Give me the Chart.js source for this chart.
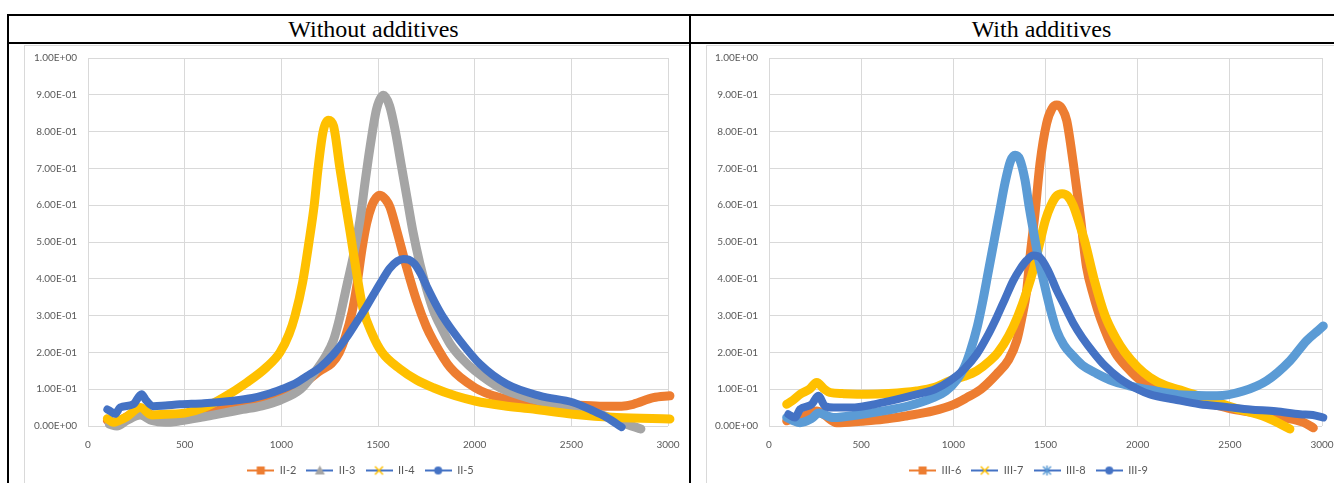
<!DOCTYPE html>
<html>
<head>
<meta charset="utf-8">
<script src="https://cdn.jsdelivr.net/npm/chart.js@4.4.1/dist/chart.umd.min.js"></script>
<style>
body { margin: 0; background: #fff; }
#page { position: relative; width: 1334px; height: 483px; overflow: hidden; }
.rule { position: absolute; background: #000; }
.head { position: absolute; top: 16px; height: 26px; line-height: 27px; width: 347px; text-align: center;
        font-family: "Liberation Serif", "Times New Roman", serif; font-size: 24px; color: #000; }
.area { position: absolute; top: 45px; height: 500px; border-left: 1px solid #d9d9d9; border-top: 1px solid #d9d9d9; }
canvas { position: absolute; top: 46px; }
</style>
</head>
<body>
<div id="page">
  <div class="rule" style="left:7px;top:14px;width:1400px;height:2px"></div>
  <div class="rule" style="left:7px;top:42px;width:1400px;height:2px"></div>
  <div class="rule" style="left:7px;top:14px;width:2px;height:500px"></div>
  <div class="rule" style="left:689px;top:14px;width:2px;height:500px"></div>
  <div class="head" style="left:200px">Without additives</div>
  <div class="head" style="left:868px">With additives</div>
  <div class="area" style="left:24px;width:664px"></div>
  <div class="area" style="left:706px;width:700px"></div>
  <canvas id="leftChart" width="663" height="440" style="left:25px"></canvas>
  <canvas id="rightChart" width="640" height="440" style="left:707px"></canvas>
</div>
<script>
// ---- data ----
var xTicks = [0, 500, 1000, 1500, 2000, 2500, 3000];
var yTicks = [0, 0.1, 0.2, 0.3, 0.4, 0.5, 0.6, 0.7, 0.8, 0.9, 1.0];

// without additives
var ii2X = [100, 140, 200, 270, 330, 400, 500, 600, 700, 800, 900, 1000, 1100, 1200, 1260, 1300, 1330, 1366, 1390, 1417, 1441, 1469, 1490, 1510, 1540, 1562, 1597, 1648, 1700, 1750, 1786, 1873, 2002, 2131, 2303, 2510, 2648, 2760, 2820, 2924, 3010];
var ii2Y = [0.015, 0.01, 0.025, 0.045, 0.03, 0.025, 0.03, 0.035, 0.045, 0.055, 0.065, 0.085, 0.11, 0.15, 0.17, 0.2, 0.24, 0.31, 0.38, 0.48, 0.55, 0.6, 0.62, 0.627, 0.615, 0.595, 0.531, 0.431, 0.34, 0.27, 0.232, 0.159, 0.104, 0.077, 0.064, 0.057, 0.054, 0.054, 0.059, 0.077, 0.082];

var ii3X = [110, 150, 200, 270, 330, 400, 476, 600, 700, 800, 900, 993, 1100, 1166, 1230, 1269, 1300, 1338, 1372, 1407, 1435, 1459, 1493, 1528, 1560, 1590, 1620, 1650, 1680, 1717, 1750, 1786, 1830, 1873, 1940, 2002, 2131, 2303, 2510, 2648, 2786, 2860];
var ii3Y = [0.005, 0.0, 0.015, 0.03, 0.015, 0.01, 0.014, 0.025, 0.035, 0.045, 0.055, 0.07, 0.1, 0.141, 0.19, 0.232, 0.29, 0.38, 0.46, 0.56, 0.67, 0.758, 0.862, 0.899, 0.87, 0.8, 0.71, 0.62, 0.53, 0.44, 0.375, 0.315, 0.265, 0.223, 0.18, 0.15, 0.104, 0.073, 0.05, 0.032, 0.005, -0.008];

var ii4X = [100, 130, 160, 200, 270, 330, 400, 500, 600, 700, 821, 924, 993, 1040, 1071, 1110, 1143, 1170, 1190, 1216, 1243, 1270, 1303, 1330, 1355, 1385, 1422, 1470, 1521, 1614, 1700, 1786, 1900, 2002, 2150, 2303, 2510, 2734, 3010];
var ii4Y = [0.02, 0.01, 0.015, 0.025, 0.05, 0.03, 0.032, 0.035, 0.05, 0.077, 0.118, 0.16, 0.2, 0.25, 0.3, 0.39, 0.5, 0.6, 0.7, 0.8, 0.831, 0.815, 0.7, 0.61, 0.53, 0.43, 0.32, 0.25, 0.2, 0.155, 0.125, 0.104, 0.082, 0.068, 0.055, 0.046, 0.032, 0.023, 0.019];

var ii5X = [100, 114, 140, 166, 234, 277, 300, 338, 400, 476, 600, 735, 850, 924, 1000, 1062, 1130, 1200, 1270, 1338, 1390, 1441, 1480, 1520, 1560, 1600, 1631, 1660, 1690, 1720, 1752, 1800, 1838, 1924, 2028, 2166, 2338, 2510, 2614, 2683, 2760];
var ii5Y = [0.045, 0.041, 0.033, 0.05, 0.059, 0.086, 0.07, 0.054, 0.056, 0.059, 0.062, 0.068, 0.076, 0.086, 0.1, 0.113, 0.135, 0.159, 0.195, 0.241, 0.283, 0.325, 0.36, 0.395, 0.428, 0.448, 0.454, 0.452, 0.44, 0.415, 0.38, 0.33, 0.295, 0.232, 0.168, 0.114, 0.082, 0.064, 0.041, 0.023, -0.003];

// with additives
var iii6X = [96, 130, 180, 259, 300, 367, 500, 620, 750, 891, 1000, 1073, 1150, 1235, 1300, 1344, 1370, 1398, 1416, 1443, 1470, 1506, 1535, 1561, 1590, 1615, 1651, 1687, 1723, 1760, 1800, 1877, 1950, 2013, 2100, 2248, 2400, 2519, 2650, 2790, 2900, 2953];
var iii6Y = [0.014, 0.02, 0.025, 0.041, 0.03, 0.009, 0.013, 0.018, 0.028, 0.041, 0.058, 0.077, 0.1, 0.141, 0.18, 0.232, 0.29, 0.368, 0.46, 0.577, 0.713, 0.822, 0.862, 0.872, 0.862, 0.83, 0.713, 0.577, 0.431, 0.355, 0.29, 0.2, 0.155, 0.125, 0.1, 0.077, 0.06, 0.045, 0.035, 0.023, 0.01, -0.005];

var iii7X = [96, 130, 168, 220, 259, 300, 331, 400, 530, 650, 801, 900, 982, 1060, 1127, 1200, 1242, 1300, 1351, 1398, 1434, 1470, 1500, 1530, 1560, 1590, 1620, 1650, 1690, 1714, 1763, 1823, 1880, 1931, 2000, 2067, 2150, 2248, 2400, 2519, 2700, 2826];
var iii7Y = [0.059, 0.07, 0.086, 0.1, 0.118, 0.1, 0.091, 0.088, 0.086, 0.088, 0.095, 0.105, 0.123, 0.135, 0.15, 0.178, 0.2, 0.245, 0.3, 0.365, 0.425, 0.5, 0.56, 0.6, 0.625, 0.631, 0.625, 0.6, 0.54, 0.5, 0.4, 0.3, 0.24, 0.2, 0.16, 0.132, 0.11, 0.095, 0.07, 0.05, 0.023, -0.008];

var iii8X = [96, 130, 168, 230, 270, 349, 480, 620, 760, 891, 960, 1018, 1060, 1090, 1130, 1160, 1190, 1220, 1250, 1280, 1310, 1335, 1360, 1389, 1410, 1434, 1460, 1487, 1520, 1560, 1600, 1650, 1700, 1769, 1850, 1950, 2067, 2248, 2429, 2573, 2700, 2826, 2917, 2980, 3007];
var iii8Y = [0.023, 0.015, 0.009, 0.02, 0.035, 0.023, 0.03, 0.041, 0.055, 0.077, 0.095, 0.125, 0.16, 0.2, 0.27, 0.34, 0.42, 0.5, 0.58, 0.66, 0.72, 0.736, 0.725, 0.668, 0.6, 0.531, 0.46, 0.4, 0.33, 0.26, 0.22, 0.19, 0.165, 0.145, 0.125, 0.11, 0.098, 0.084, 0.082, 0.095, 0.123, 0.177, 0.232, 0.26, 0.272];

var iii9X = [105, 141, 168, 232, 267, 304, 350, 439, 620, 801, 900, 982, 1060, 1127, 1180, 1235, 1280, 1325, 1360, 1398, 1434, 1470, 1515, 1560, 1600, 1650, 1700, 1760, 1820, 1900, 2000, 2067, 2200, 2338, 2480, 2610, 2750, 2881, 2950, 3007];
var iii9Y = [0.032, 0.023, 0.045, 0.059, 0.082, 0.054, 0.05, 0.05, 0.064, 0.086, 0.1, 0.123, 0.155, 0.195, 0.24, 0.295, 0.345, 0.395, 0.425, 0.45, 0.463, 0.458, 0.422, 0.37, 0.33, 0.28, 0.24, 0.2, 0.165, 0.13, 0.1, 0.086, 0.072, 0.059, 0.052, 0.045, 0.04, 0.032, 0.03, 0.023];

var ORANGE = '#ed7d31', GRAY = '#a5a5a5', YELLOW = '#ffc000', BLUE = '#4472c4', LIGHTBLUE = '#5b9bd5';

function points(xs, ys) {
    return xs.map(function(x, i) { return { x: x, y: ys[i] }; });
}

// excel style 1.00E-01
function sci(v) {
    var p = Number(v).toExponential(2).split('e');
    var e = parseInt(p[1], 10);
    return p[0] + 'E' + (e < 0 ? '-' : '+') + String(Math.abs(e)).padStart(2, '0');
}

// little line + marker picture for the legend
function legendIcon(lineColor, marker, markerColor) {
    var c = document.createElement('canvas');
    c.width = 27; c.height = 12;
    var g = c.getContext('2d');
    g.strokeStyle = lineColor; g.lineWidth = 2;
    g.beginPath(); g.moveTo(0, 6); g.lineTo(27, 6); g.stroke();
    g.fillStyle = markerColor; g.strokeStyle = markerColor; g.lineWidth = 1.5;
    var cx = 13.5, cy = 6;
    if (marker === 'square') {
        g.fillRect(cx - 4, cy - 4, 8, 8);
    } else if (marker === 'triangle') {
        g.beginPath(); g.moveTo(cx, cy - 5); g.lineTo(cx + 5, cy + 4); g.lineTo(cx - 5, cy + 4); g.closePath(); g.fill();
    } else if (marker === 'cross') {
        g.beginPath(); g.moveTo(cx - 4, cy - 4); g.lineTo(cx + 4, cy + 4); g.moveTo(cx + 4, cy - 4); g.lineTo(cx - 4, cy + 4); g.stroke();
    } else if (marker === 'star') {
        g.beginPath(); g.moveTo(cx - 4, cy - 4); g.lineTo(cx + 4, cy + 4); g.moveTo(cx + 4, cy - 4); g.lineTo(cx - 4, cy + 4);
        g.moveTo(cx, cy - 5); g.lineTo(cx, cy + 5); g.stroke();
    } else {
        g.beginPath(); g.arc(cx, cy, 4, 0, Math.PI * 2); g.fill();
    }
    return c;
}

function series(label, xs, ys, color, width, order, icon) {
    return {
        label: label,
        data: points(xs, ys),
        borderColor: color,
        backgroundColor: color,
        borderWidth: width,
        pointRadius: 0,
        showLine: true,
        cubicInterpolationMode: 'monotone',
        borderCapStyle: 'round',
        borderJoinStyle: 'round',
        order: order,
        clip: 12,
        icon: icon
    };
}

// nudge the legend sideways, excel does not centre it on the whole canvas
var legendShift = {
    id: 'legendShift',
    afterLayout: function(chart, args, opts) {
        var lg = chart.legend;
        if (!lg) return;
        lg.left += opts.dx; lg.right += opts.dx;
    }
};

var tickFont = { family: 'Lato', size: 10 };

function makeChart(id, datasets, padRight, yWidth, dx) {
    return new Chart(document.getElementById(id), {
        type: 'scatter',
        data: { datasets: datasets },
        plugins: [legendShift],
        options: {
            responsive: false,
            animation: false,
            devicePixelRatio: 1,
            events: [],
            layout: { padding: { top: 12, right: padRight, bottom: 0, left: 0 } },
            plugins: {
                tooltip: { enabled: false },
                legendShift: { dx: dx },
                legend: {
                    position: 'bottom',
                    labels: {
                        usePointStyle: true,
                        pointStyleWidth: 27,
                        boxHeight: 11,
                        padding: 10,
                        color: '#595959',
                        font: { family: 'Lato', size: 11 },
                        generateLabels: function(chart) {
                            return chart.data.datasets.map(function(ds, i) {
                                return { text: ds.label, pointStyle: ds.icon, datasetIndex: i,
                                         fillStyle: ds.borderColor, strokeStyle: ds.borderColor,
                                         lineWidth: 0, hidden: false, fontColor: '#595959' };
                            });
                        }
                    }
                }
            },
            scales: {
                x: {
                    type: 'linear',
                    min: 0,
                    max: 3000,
                    afterBuildTicks: function(s) { s.ticks = xTicks.map(function(v) { return { value: v }; }); },
                    afterFit: function(s) { s.height = 29; },
                    ticks: { color: '#595959', font: tickFont, padding: 0, maxRotation: 0,
                             callback: function(v) { return String(v); } },
                    grid: { color: '#d9d9d9', drawTicks: true, tickLength: 13, tickColor: 'rgba(0,0,0,0)' },
                    border: { display: false }
                },
                y: {
                    min: 0,
                    max: 1,
                    afterBuildTicks: function(s) { s.ticks = yTicks.map(function(v) { return { value: v }; }); },
                    afterFit: function(s) { s.width = yWidth; },
                    ticks: { color: '#595959', font: tickFont, padding: 0, callback: sci },
                    grid: { color: '#d9d9d9', drawTicks: true, tickLength: 11, tickColor: 'rgba(0,0,0,0)' },
                    border: { display: false }
                }
            }
        }
    });
}

makeChart('leftChart', [
    series('II-2', ii2X, ii2Y, ORANGE, 9, 4, legendIcon(ORANGE, 'square', ORANGE)),
    series('II-3', ii3X, ii3Y, GRAY, 9, 3, legendIcon(BLUE, 'triangle', GRAY)),
    series('II-4', ii4X, ii4Y, YELLOW, 9, 2, legendIcon(BLUE, 'cross', YELLOW)),
    series('II-5', ii5X, ii5Y, BLUE, 8, 1, legendIcon(BLUE, 'circle', BLUE))
], 20, 63, 14);

makeChart('rightChart', [
    series('III-6', iii6X, iii6Y, ORANGE, 9, 4, legendIcon(ORANGE, 'square', ORANGE)),
    series('III-7', iii7X, iii7Y, YELLOW, 9, 3, legendIcon(BLUE, 'cross', YELLOW)),
    series('III-8', iii8X, iii8Y, LIGHTBLUE, 9, 2, legendIcon(BLUE, 'star', LIGHTBLUE)),
    series('III-9', iii9X, iii9Y, BLUE, 8, 1, legendIcon(BLUE, 'circle', BLUE))
], 25, 62, 14);
</script>
</body>
</html>
